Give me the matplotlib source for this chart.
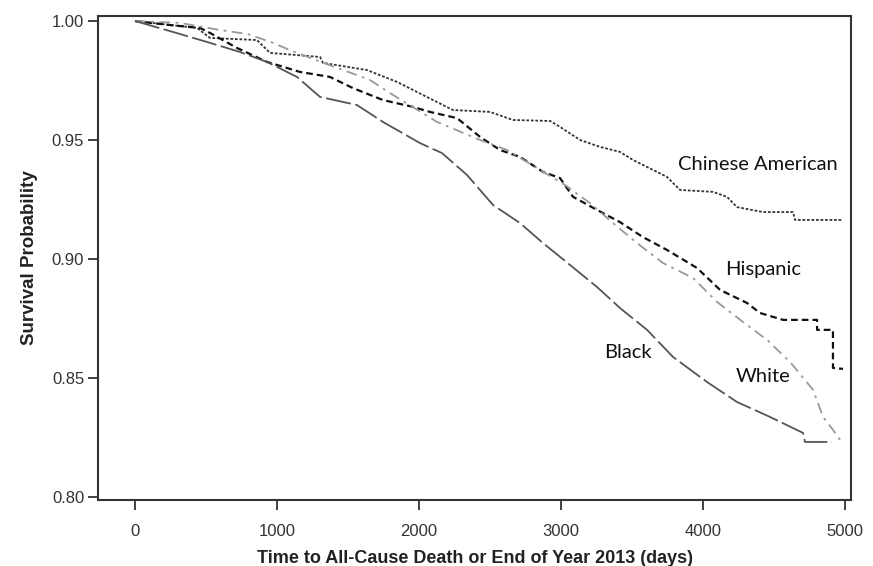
import matplotlib
matplotlib.use('Agg')
import matplotlib.pyplot as plt

# survival curves (days, survival probability)
chinese_t = [0, 437, 528, 859, 951, 1303, 1324, 1634, 1845, 2239, 2500, 2662, 2923, 2993,
             3134, 3275, 3415, 3507, 3746, 3838, 4070, 4169, 4239, 4423, 4634, 4648, 4986]
chinese_s = [1.000, 0.9971, 0.9929, 0.9920, 0.9866, 0.9849, 0.9824, 0.9794, 0.9744, 0.9626,
             0.9618, 0.9584, 0.9580, 0.9555, 0.9500, 0.9471, 0.9450, 0.9416, 0.9345, 0.9290,
             0.9282, 0.9261, 0.9218, 0.9197, 0.9197, 0.9164, 0.9164]

hispanic_t = [0, 246, 458, 528, 718, 930, 1162, 1373, 1535, 1746, 1958, 2077, 2268, 2430,
              2570, 2711, 2873, 2993, 3085, 3254, 3415, 3577, 3746, 3958, 4120, 4310, 4401,
              4563, 4803, 4803, 4915, 4915, 4986]
hispanic_s = [1.000, 0.9983, 0.9971, 0.9950, 0.9887, 0.9828, 0.9786, 0.9765, 0.9718, 0.9668,
              0.9639, 0.9618, 0.9592, 0.9513, 0.9458, 0.9429, 0.9366, 0.9340, 0.9261, 0.9206,
              0.9155, 0.9092, 0.9038, 0.8962, 0.8870, 0.8815, 0.8773, 0.8744, 0.8744, 0.8702,
              0.8702, 0.8542, 0.8538]

white_t = [0, 317, 599, 796, 972, 1106, 1423, 1563, 1655, 1796, 2127, 2430, 2620, 2831, 3028,
           3204, 3366, 3535, 3718, 3930, 4099, 4282, 4451, 4613, 4775, 4845, 4915, 4965]
white_s = [1.000, 0.9992, 0.9962, 0.9945, 0.9908, 0.9874, 0.9803, 0.9773, 0.9752, 0.9697,
           0.9576, 0.9500, 0.9458, 0.9382, 0.9311, 0.9235, 0.9151, 0.9067, 0.8983, 0.8920,
           0.8819, 0.8735, 0.8660, 0.8567, 0.8450, 0.8336, 0.8282, 0.8239]

black_t = [0, 268, 507, 739, 930, 1141, 1303, 1563, 1746, 2007, 2162, 2338, 2521, 2711, 2873,
           3063, 3254, 3415, 3606, 3789, 4028, 4239, 4472, 4704, 4718, 4908]
black_s = [1.000, 0.9954, 0.9912, 0.9870, 0.9828, 0.9765, 0.9681, 0.9647, 0.9576, 0.9487,
           0.9445, 0.9353, 0.9227, 0.9151, 0.9067, 0.8975, 0.8882, 0.8794, 0.8702, 0.8588,
           0.8483, 0.8399, 0.8336, 0.8269, 0.8231, 0.8231]

labels = ['Chinese American', 'Hispanic', 'Black', 'White']
label_x = [3824, 4155, 3303, 4232]
label_y = [0.9395, 0.8954, 0.8609, 0.8504]

x_ticks = [0, 1000, 2000, 3000, 4000, 5000]
y_ticks = [0.80, 0.85, 0.90, 0.95, 1.00]

sans = ['Liberation Sans', 'DejaVu Sans']

fig = plt.figure(figsize=(8.73, 5.66), dpi=100)
ax = fig.add_axes([0.1123, 0.1166, 0.8625, 0.8551])

ax.plot(chinese_t, chinese_s, color='#333333', lw=1.3, ls=(0, (1.5, 1)))
ax.plot(hispanic_t, hispanic_s, color='#111111', lw=1.6, ls=(0, (3, 1.8)))
ax.plot(white_t, white_s, color='#999999', lw=1.3, ls=(0, (6, 3, 1.5, 3)))
ax.plot(black_t, black_s, color='#555555', lw=1.3, ls=(0, (14, 2.5)))

for lab, lx, ly in zip(labels, label_x, label_y):
    ax.text(lx, ly, lab, fontsize=14.5, family=['Lato', 'DejaVu Sans'],
            ha='left', va='center', color='#111111')

ax.set_xlim(-260, 5042)
ax.set_ylim(0.7987, 1.0021)
ax.set_xticks(x_ticks)
ax.set_yticks(y_ticks)
ax.set_xticklabels([str(t) for t in x_ticks])
ax.set_yticklabels(['%.2f' % t for t in y_ticks])

for s in ax.spines.values():
    s.set_color('#333333')
    s.set_linewidth(1.5)
ax.tick_params(direction='out', length=7, width=1.3, color='#333333',
               labelcolor='#333333', labelsize=12)
ax.tick_params(axis='x', pad=10)
ax.tick_params(axis='y', pad=3)
for t in ax.get_xticklabels() + ax.get_yticklabels():
    t.set_family(sans)

ax.set_xlabel('Time to All-Cause Death or End of Year 2013 (days)', family=sans,
              fontsize=13, fontweight='bold', color='#222222', labelpad=8)
ax.set_ylabel('Survival Probability', family=sans, fontsize=13.5,
              fontweight='bold', color='#222222', labelpad=10)

fig.savefig('out.png', dpi=100)
